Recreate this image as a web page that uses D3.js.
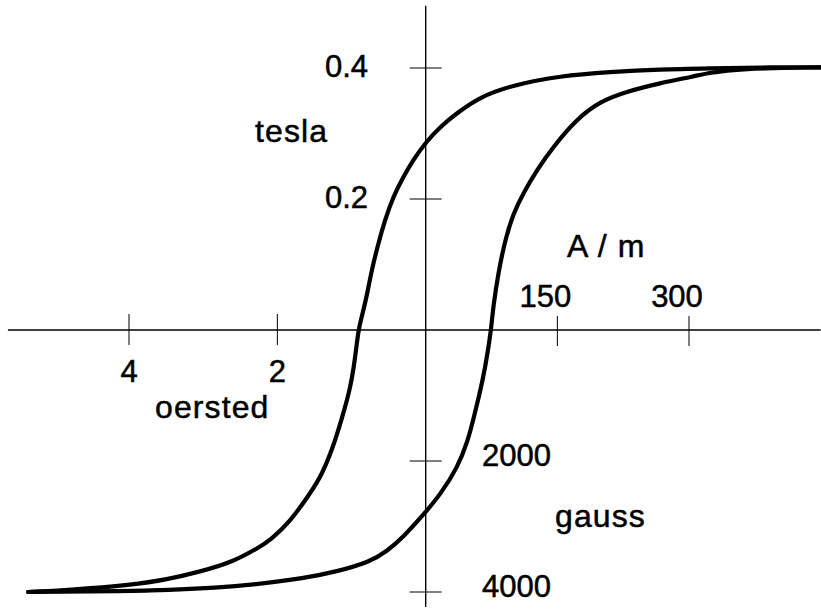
<!DOCTYPE html>
<html>
<head>
<meta charset="utf-8">
<script src="https://cdn.jsdelivr.net/npm/d3@7"></script>
<style>
  html, body { margin: 0; padding: 0; background: #fff; }
  svg text { font-family: "Liberation Sans", Arial, Helvetica, sans-serif; fill: #000; stroke: #000; stroke-width: 0.5px; }
</style>
</head>
<body>
<div id="chart"></div>
<script>
// Hysteresis loop: H in A/m, B in tesla
const descH = [450, 380.9, 323.9, 267.0, 210.0, 153.0, 99.5, 61.9, 35.3, 16.3, 0.3, -14.1, -25.5, -36.9, -46.4, -54.0, -61.5, -67.2, -72.9, -76.8, -80.6, -86.3, -96.0, -105.3, -118.2, -131.9, -154.7, -177.4, -188.8, -219.2, -257.2, -295.1, -333.5, -408.7, -453];
const descB = [0.401, 0.401, 0.3995, 0.398, 0.394, 0.388, 0.374, 0.356, 0.331, 0.310, 0.287, 0.260, 0.234, 0.204, 0.168, 0.132, 0.092, 0.051, 0.020, 0, -0.046, -0.092, -0.137, -0.178, -0.221, -0.250, -0.293, -0.321, -0.331, -0.354, -0.369, -0.381, -0.389, -0.397, -0.400];
const ascH = [-453, -382.5, -314.0, -238.1, -177.4, -139.5, -101.4, -63.5, -44.4, -25.5, -2.7, 16.3, 36.8, 48.2, 54.2, 65.3, 71.0, 74.4, 77.0, 82.7, 90.4, 99.8, 111.2, 126.5, 145.4, 172.0, 198.6, 229.0, 267.0, 304.9, 323.9, 350.1, 380.9, 450];
const ascB = [-0.400, -0.399, -0.398, -0.394, -0.386, -0.379, -0.369, -0.354, -0.338, -0.316, -0.282, -0.252, -0.209, -0.168, -0.137, -0.076, -0.031, 0, 0.036, 0.087, 0.137, 0.178, 0.209, 0.244, 0.280, 0.322, 0.349, 0.364, 0.377, 0.387, 0.393, 0.397, 0.3995, 0.401];

const teslaTicks = [0.2, 0.4];
const gaussTicks = [2000, 4000];
const amTicks = [150, 300];
const oerstedTicks = [2, 4];

// axis extents (data units)
const hExtent = [-476, 450];
const bExtent = [-0.423, 0.495];

(function () {
  const W = 821, H = 609;
  const svg = d3.select("#chart").append("svg").attr("width", W).attr("height", H);

  const x = d3.scaleLinear().domain([0, 300]).range([425.7, 689]);
  const y = d3.scaleLinear().domain([0, 0.4]).range([330, 68]);
  const xOe = d3.scaleLinear().domain([0, 4]).range([425.7, 129]);
  const yG = d3.scaleLinear().domain([0, 4000]).range([330, 592]);

  // axes lines
  svg.append("line")
    .attr("x1", x(hExtent[0])).attr("x2", x(hExtent[1]))
    .attr("y1", y(0)).attr("y2", y(0))
    .attr("stroke", "#000").attr("stroke-width", 1.4);
  svg.append("line")
    .attr("x1", x(0)).attr("x2", x(0))
    .attr("y1", y(bExtent[1])).attr("y2", y(bExtent[0]))
    .attr("stroke", "#000").attr("stroke-width", 1.4);

  // ticks
  const tickLen = 16;
  svg.selectAll(".tt").data(teslaTicks).join("line")
    .attr("x1", x(0) - tickLen).attr("x2", x(0) + tickLen)
    .attr("y1", d => y(d)).attr("y2", d => y(d))
    .attr("stroke", "#000").attr("stroke-width", 1);
  svg.selectAll(".gt").data(gaussTicks).join("line")
    .attr("x1", x(0) - tickLen).attr("x2", x(0) + tickLen)
    .attr("y1", d => yG(d)).attr("y2", d => yG(d))
    .attr("stroke", "#000").attr("stroke-width", 1);
  svg.selectAll(".at").data(amTicks).join("line")
    .attr("x1", d => x(d)).attr("x2", d => x(d))
    .attr("y1", y(0) - 14).attr("y2", y(0) + 16)
    .attr("stroke", "#000").attr("stroke-width", 1);
  svg.selectAll(".ot").data(oerstedTicks).join("line")
    .attr("x1", d => xOe(d)).attr("x2", d => xOe(d))
    .attr("y1", y(0) - 16).attr("y2", y(0) + 15)
    .attr("stroke", "#000").attr("stroke-width", 1);

  // tick labels
  const fs = "31px";
  svg.selectAll(".tl").data(teslaTicks).join("text")
    .attr("x", 368).attr("y", d => y(d) + 9)
    .attr("text-anchor", "end").attr("font-size", fs)
    .text(d => d.toFixed(1));
  svg.selectAll(".gl").data(gaussTicks).join("text")
    .attr("x", 482).attr("y", d => yG(d) + 5)
    .attr("font-size", fs)
    .text(d => d);
  svg.selectAll(".al").data(amTicks).join("text")
    .attr("x", d => x(d) - 12).attr("y", 307)
    .attr("text-anchor", "middle").attr("font-size", fs)
    .text(d => d);
  svg.selectAll(".ol").data(oerstedTicks).join("text")
    .attr("x", d => xOe(d)).attr("y", 382)
    .attr("text-anchor", "middle").attr("font-size", fs)
    .text(d => d);

  // unit labels
  const units = [
    { t: "tesla", x: 255, y: 142 },
    { t: "A / m", x: 567, y: 257 },
    { t: "oersted", x: 155, y: 418 },
    { t: "gauss", x: 555, y: 527 },
  ];
  svg.selectAll(".ul").data(units).join("text")
    .attr("x", d => d.x).attr("y", d => d.y)
    .attr("font-size", "32px").attr("letter-spacing", "1.1px")
    .text(d => d.t);

  // loop branches (basis spline smooths out reading noise)
  const line = d3.line().x(d => x(d[0])).y(d => y(d[1])).curve(d3.curveBasis);
  const branches = [d3.zip(descH, descB), d3.zip(ascH, ascB)];
  svg.selectAll(".branch").data(branches).join("path")
    .attr("d", line)
    .attr("fill", "none")
    .attr("stroke", "#000")
    .attr("stroke-width", 4.2)
    .attr("stroke-linecap", "round");
})();
</script>
</body>
</html>
